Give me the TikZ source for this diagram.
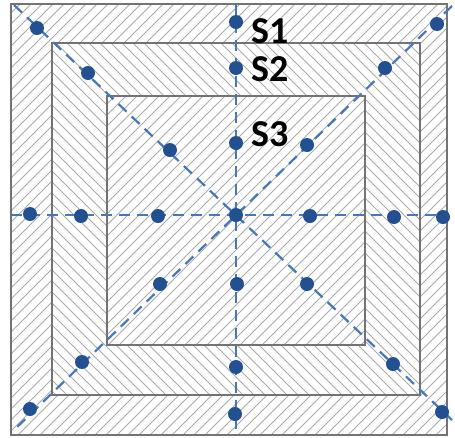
\documentclass[tikz,border=0pt]{standalone}
\usepackage{fontspec}
\setmainfont{Carlito}
\begin{document}
\begin{tikzpicture}[x=1pt,y=-1pt,
  hatch/.style={draw=gray!65, line width=0.9pt},
  border/.style={draw=gray!90!black, line width=1.3pt},
  axis/.style={color={rgb,255:red,70;green,120;blue,185}, line width=2.2pt, dash pattern=on 11pt off 7pt},
  dot/.style={circle, fill={rgb,255:red,35;green,80;blue,145}, inner sep=0pt, minimum size=14pt},
  lab/.style={font=\bfseries\fontsize{38}{38}\selectfont, anchor=west, inner sep=0pt}]
\useasboundingbox (0,0) rectangle (455,437);
\fill[white] (0,0) rectangle (455,437);
% outer ring hatching
\begin{scope}
\clip (11,4) rectangle (447,435);
\foreach \i in {-460,-449,...,460} \draw[hatch] (\i,440) -- ++(450,-450);
\end{scope}
% middle square
\fill[white] (52,43) rectangle (420,395);
\begin{scope}
\clip (52,43) rectangle (420,395);
\foreach \i in {-460,-449,...,460} \draw[hatch] (\i,0) -- ++(450,450);
\end{scope}
% inner square
\fill[white] (107,96) rectangle (365,345);
\begin{scope}
\clip (107,96) rectangle (365,345);
\foreach \i in {-460,-449,...,460} \draw[hatch] (\i,440) -- ++(450,-450);
\end{scope}
\draw[border] (11,4) rectangle (447,435);
\draw[border] (52,43) rectangle (420,395);
\draw[border] (107,96) rectangle (365,345);
% line ends
\coordinate (vt) at (236,4);
\coordinate (vb) at (236,435);
\coordinate (hl) at (11,215);
\coordinate (hr) at (447,215);
\coordinate (d1a) at (14,5);
\coordinate (d1b) at (452,420);
\coordinate (d2a) at (452,6);
\coordinate (d2b) at (14,430);
\draw[axis] (vt) -- (vb);
\draw[axis] (hl) -- (hr);
\draw[axis] (d1a) -- (d1b);
\draw[axis] (d2a) -- (d2b);
% dots
\node[dot] (c) at (236,215) {};
\node[dot] (v1) at (236,22) {};
\node[dot] (v2) at (236,68) {};
\node[dot] (v3) at (236,143) {};
\node[dot] (v4) at (237,284) {};
\node[dot] (v5) at (236,367) {};
\node[dot] (v6) at (235,414) {};
\node[dot] (h1) at (30,214) {};
\node[dot] (h2) at (81,216) {};
\node[dot] (h3) at (158,216) {};
\node[dot] (h4) at (310,216) {};
\node[dot] (h5) at (394,217) {};
\node[dot] (h6) at (443,217) {};
\node[dot] (a1) at (37,28) {};
\node[dot] (a2) at (88,73) {};
\node[dot] (a3) at (170,150) {};
\node[dot] (a4) at (307,284) {};
\node[dot] (a5) at (393,364) {};
\node[dot] (a6) at (442,412) {};
\node[dot] (b1) at (437,24) {};
\node[dot] (b2) at (385,68) {};
\node[dot] (b3) at (307,145) {};
\node[dot] (b4) at (160,284) {};
\node[dot] (b5) at (82,362) {};
\node[dot] (b6) at (30,409) {};
% labels
\node[lab] (s1) at (251,31) {S1};
\node[lab] (s2) at (251,69) {S2};
\node[lab] (s3) at (251,134) {S3};
\end{tikzpicture}
\end{document}
